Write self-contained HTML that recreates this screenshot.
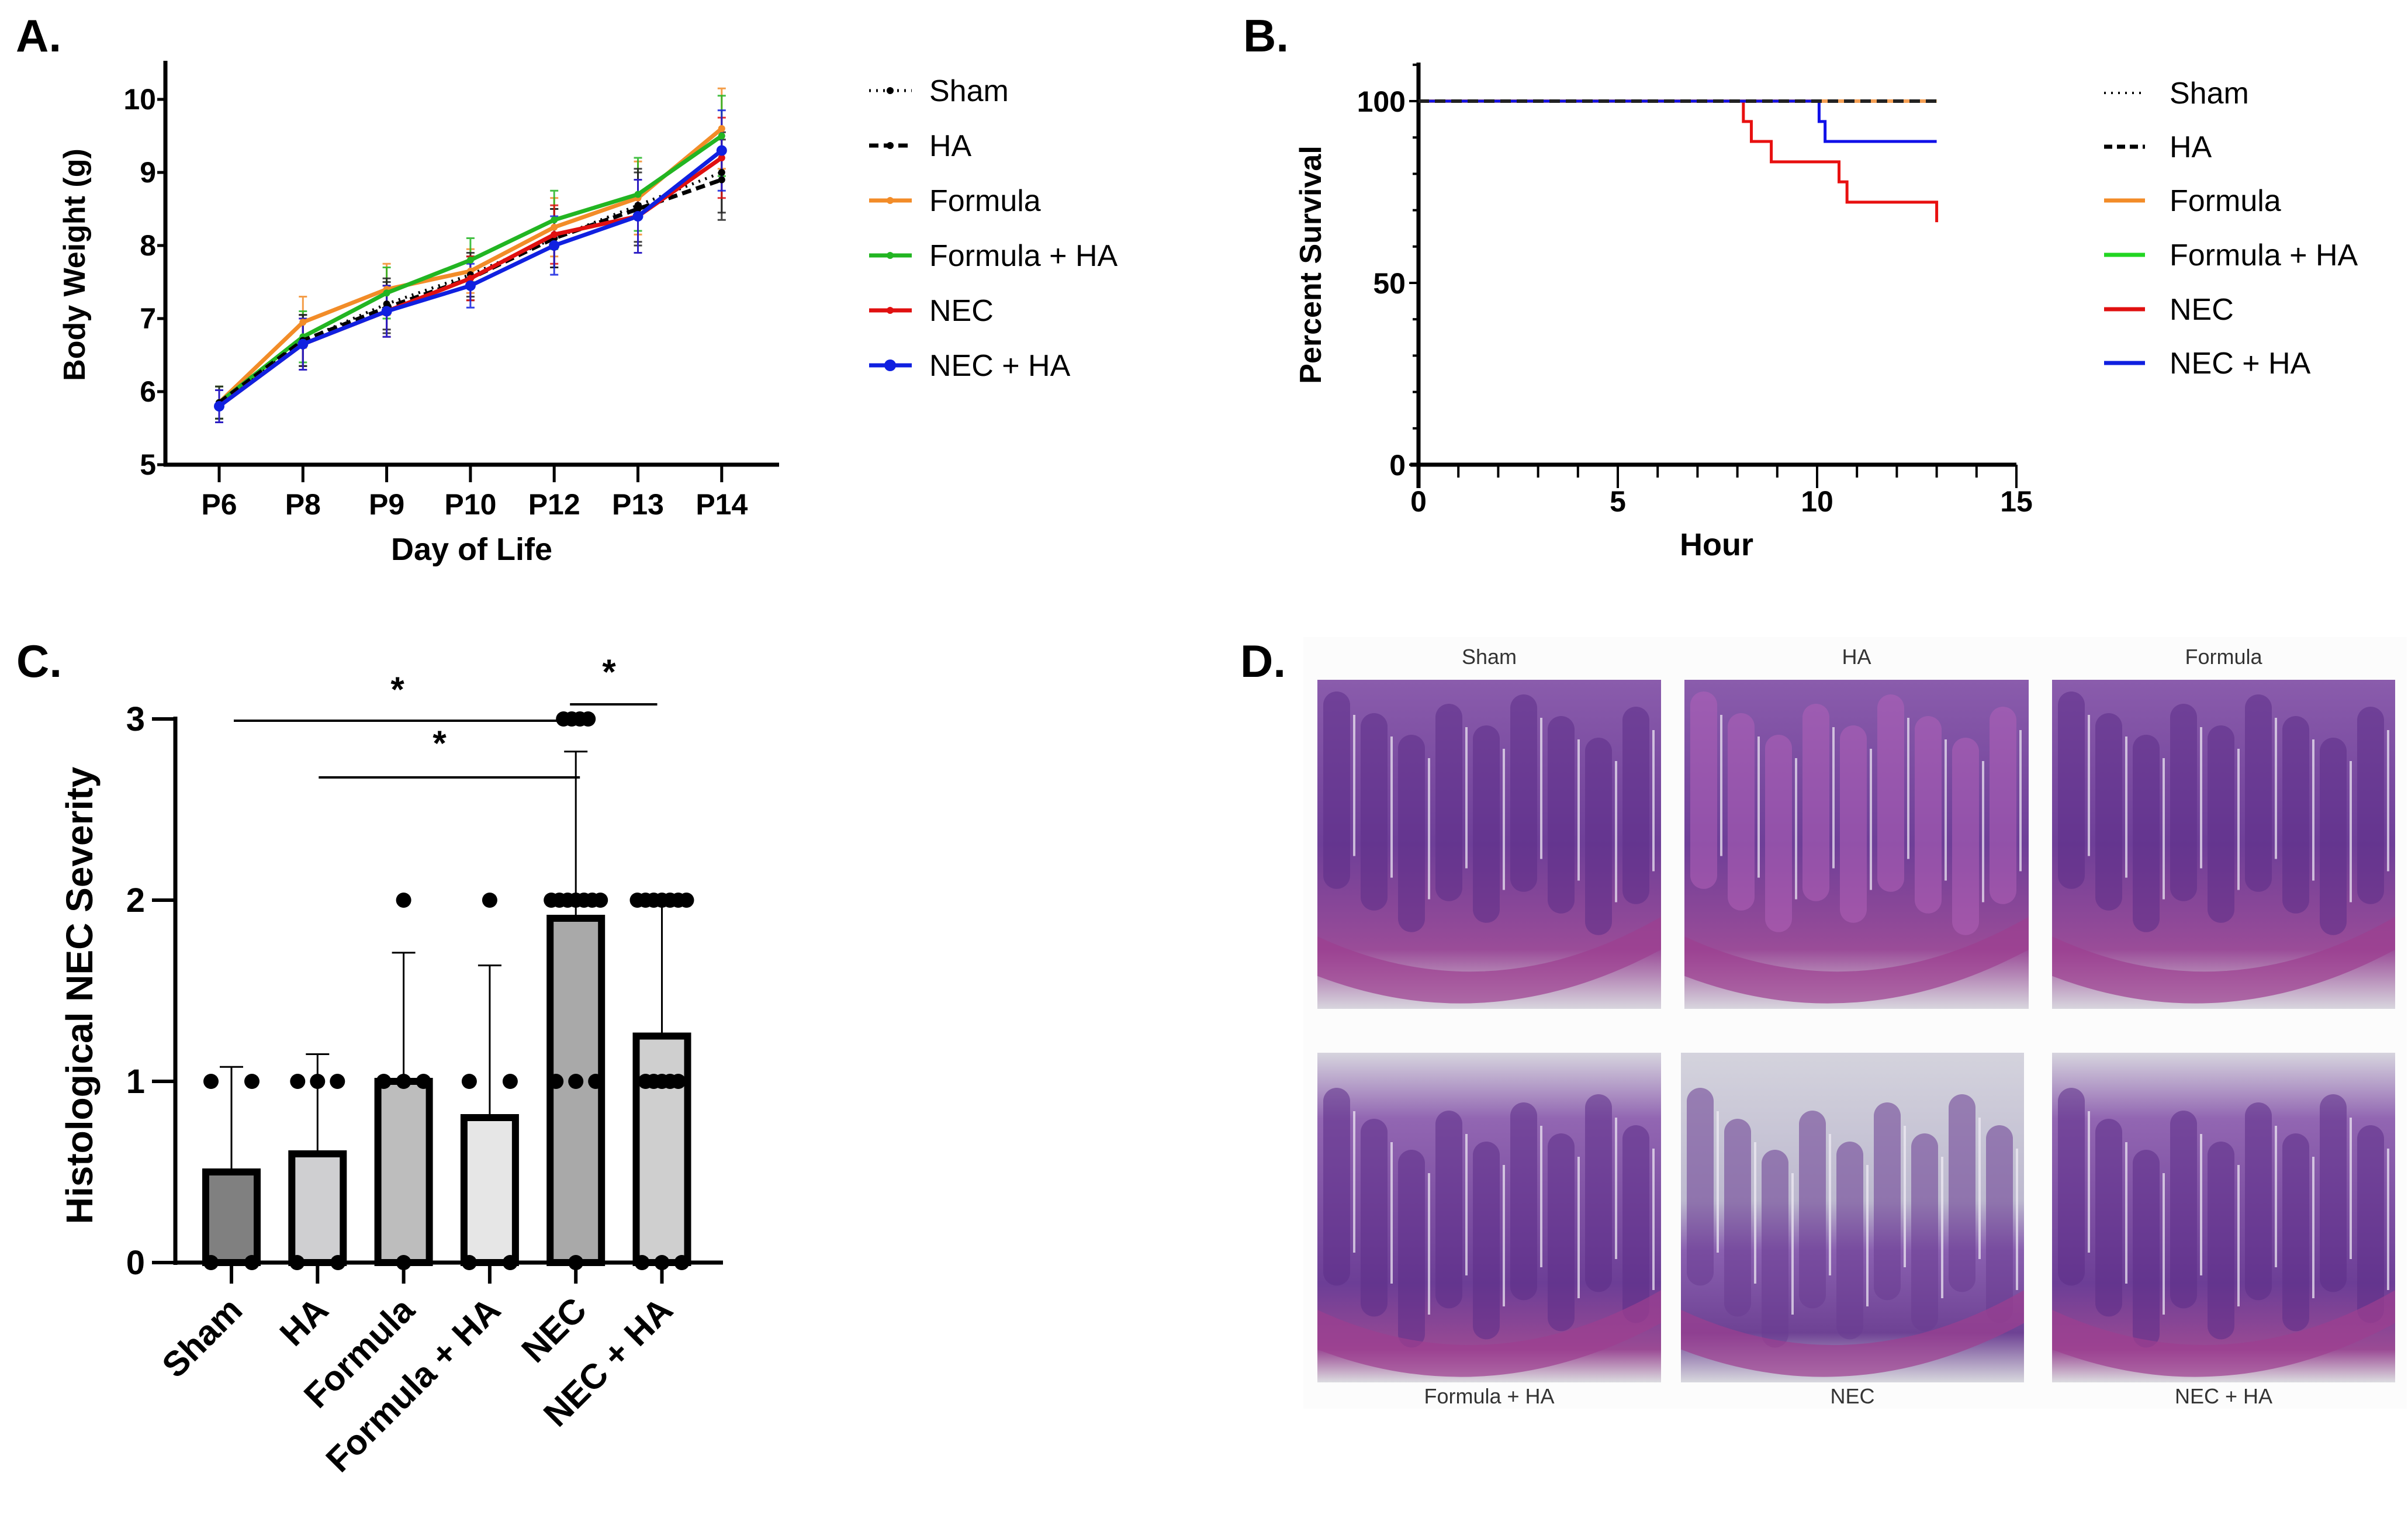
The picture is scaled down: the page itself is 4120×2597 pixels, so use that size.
<!DOCTYPE html>
<html><head><meta charset="utf-8"><style>
html,body{margin:0;padding:0;background:#fff}
svg{display:block}
text{font-family:"Liberation Sans",Arial,sans-serif}
.nar{font-family:"Liberation Sans Narrow","Liberation Sans",sans-serif}
</style></head><body>
<svg id="fig" xmlns="http://www.w3.org/2000/svg" width="4120" height="2597" viewBox="0 0 4120 2597">
<defs>
<linearGradient id="tis1" x1="0" y1="0" x2="0" y2="1"><stop offset="0" stop-color="#8a5cac"/><stop offset="0.5" stop-color="#6e3f98"/><stop offset="0.82" stop-color="#9a4c98"/><stop offset="1" stop-color="#d8d6de"/></linearGradient>
<linearGradient id="tis2" x1="0" y1="0" x2="0" y2="1"><stop offset="0" stop-color="#d6d4de"/><stop offset="0.2" stop-color="#9266b2"/><stop offset="0.7" stop-color="#6c3e96"/><stop offset="0.9" stop-color="#9a4a94"/><stop offset="1" stop-color="#dcdce0"/></linearGradient>
<linearGradient id="tis3" x1="0" y1="0" x2="0" y2="1"><stop offset="0" stop-color="#d4d3dd"/><stop offset="0.45" stop-color="#bdb9cf"/><stop offset="0.6" stop-color="#8a60b0"/><stop offset="0.85" stop-color="#6e4294"/><stop offset="1" stop-color="#d8d8de"/></linearGradient>
</defs>
<g id="panelA"></g>
<g id="panelB"></g>
<g id="panelC"></g>
<g id="panelD"></g>
</svg>
<script>
const NS="http://www.w3.org/2000/svg";
function mk(parent,tag,attrs,txt){const e=document.createElementNS(NS,tag);for(const k in attrs)e.setAttribute(k,attrs[k]);if(txt!==undefined)e.textContent=txt;parent.appendChild(e);return e;}

// ===== Panel A data =====
const daysA=["P6","P8","P9","P10","P12","P13","P14"];
const seriesNamesA=["Sham","HA","Formula","Formula + HA","NEC","NEC + HA"];
const shamW=[5.8,6.7,7.2,7.6,8.1,8.55,9.0];
const haW=[5.85,6.7,7.15,7.55,8.1,8.5,8.9];
const formulaW=[5.85,6.95,7.4,7.65,8.25,8.65,9.6];
const formulaHaW=[5.85,6.75,7.35,7.8,8.35,8.7,9.5];
const necW=[5.8,6.65,7.1,7.55,8.15,8.4,9.2];
const necHaW=[5.8,6.65,7.1,7.45,8.0,8.4,9.3];
const sdA=[0.22,0.35,0.35,0.3,0.4,0.5,0.55];
const yTicksA=[5,6,7,8,9,10];

// ===== Panel B data =====
const hourTicksB=[0,5,10,15];
const pctTicksB=[0,50,100];
const necTimes=[0,8.15,8.35,8.85,10.55,10.75,13.0];
const necSurv=[100,94.4,88.9,83.3,77.8,72.2,66.7];
const necHaTimes=[0,10.05,10.2,13.0];
const necHaSurv=[100,94.4,88.9,88.9];
const flatEnd=13.0;

// ===== Panel C data =====
const groupsC=["Sham","HA","Formula","Formula + HA","NEC","NEC + HA"];
const meansC=[0.5,0.6,1.0,0.8,1.9,1.25];
const sdC=[0.58,0.55,0.71,0.84,0.92,0.72];
const dotsSham=[1,1,0,0];
const dotsHa=[1,1,1,0,0];
const dotsFormula=[2,1,1,1,0];
const dotsFormulaHa=[2,1,1,0,0];
const dotsNec=[3,3,3,3,2,2,2,2,2,2,2,1,1,1,0];
const dotsNecHa=[2,2,2,2,2,2,2,1,1,1,1,1,0,0,0];
const yTicksC=[0,1,2,3];

(function(){
const g=document.getElementById('panelA');
const x0=283,yTop=104,yBase=795,xEnd=1333;
const X=i=>375+i*143.3;
const Y=v=>yBase-(v-5)*125;
let t=mk(g,'text',{x:27,y:88,'font-size':78,'font-weight':'bold'},'A.');

let ax=mk(g,'line',{x1:x0,y1:yTop,x2:x0,y2:yBase+3,stroke:'#000','stroke-width':7});

ax=mk(g,'line',{x1:x0-3,y1:yBase,x2:xEnd,y2:yBase,stroke:'#000','stroke-width':7});

yTicksA.forEach(v=>{
  mk(g,'line',{x1:x0-14,y1:Y(v),x2:x0,y2:Y(v),stroke:'#000','stroke-width':5});
  const tt=mk(g,'text',{x:x0-16,y:Y(v)+17,'font-size':50,'font-weight':'bold','text-anchor':'end',class:'nar'},String(v));
  
});
daysA.forEach((d,i)=>{
  mk(g,'line',{x1:X(i),y1:yBase,x2:X(i),y2:yBase+30,stroke:'#000','stroke-width':5});
  const tt=mk(g,'text',{x:X(i),y:880,'font-size':50,'font-weight':'bold','text-anchor':'middle',class:'nar'},d);
  
});
t=mk(g,'text',{x:807,y:958,'font-size':54,'font-weight':'bold','text-anchor':'middle',class:'nar'},'Day of Life');

t=mk(g,'text',{x:0,y:0,'font-size':52,'font-weight':'bold','text-anchor':'middle',transform:'translate(145,453) rotate(-90)'},'Body Weight (g)');

const data=[shamW,haW,formulaW,formulaHaW,necW,necHaW];
const colors=['#000','#000','#f28c28','#22b522','#e01010','#1020e0'];
const dash=['3,9','16,9',null,null,null,null];
const widths=[5,7,7,7,7,7];
const order=[2,3,0,1,4,5];
order.forEach(s=>{
  const vals=data[s];
  vals.forEach((v,i)=>{
    const e=mk(g,'path',{d:`M${X(i)},${Y(v-sdA[i])}V${Y(v+sdA[i])}M${X(i)-7},${Y(v-sdA[i])}h14M${X(i)-7},${Y(v+sdA[i])}h14`,stroke:s<2?'#222':colors[s],'stroke-width':3,fill:'none',opacity:0.85});
    
  });
});
order.forEach(s=>{
  const vals=data[s];
  const pts=vals.map((v,i)=>X(i)+','+Y(v)).join(' ');
  const pl=mk(g,'polyline',{points:pts,fill:'none',stroke:colors[s],'stroke-width':widths[s]});
  if(dash[s])pl.setAttribute('stroke-dasharray',dash[s]);
  
  
  vals.forEach((v,i)=>{
    const m=mk(g,'circle',{cx:X(i),cy:Y(v),r:s===5?9:6,fill:colors[s]});
    
  });
});
const rows=[155,249,343,437,531,625];
seriesNamesA.forEach((n,s)=>{
  const lg=mk(g,'g',{});
  
  const l=mk(lg,'line',{x1:1487,y1:rows[s],x2:1560,y2:rows[s],stroke:colors[s],'stroke-width':widths[s]});
  if(dash[s])l.setAttribute('stroke-dasharray',dash[s]);
  mk(lg,'circle',{cx:1523,cy:rows[s],r:s===5?10:6,fill:colors[s]});
  mk(lg,'text',{x:1590,y:rows[s]+18,'font-size':52,class:'nar'},n);
});
})();

(function(){
const g=document.getElementById('panelB');
const x0=2427,yTop=107,yBase=795,xEnd=3450;
const X=h=>x0+h*68.2;
const Y=p=>yBase-p*6.22;
let t=mk(g,'text',{x:2127,y:88,'font-size':78,'font-weight':'bold'},'B.');

let ax=mk(g,'line',{x1:x0,y1:yTop,x2:x0,y2:yBase+40,stroke:'#000','stroke-width':7});

ax=mk(g,'line',{x1:x0-14,y1:yBase,x2:xEnd,y2:yBase,stroke:'#000','stroke-width':7});

for(let p=0;p<=110;p+=10){mk(g,'line',{x1:x0-(p%50===0?16:10),y1:Y(p),x2:x0,y2:Y(p),stroke:'#000','stroke-width':4});}
for(let h=1;h<=15;h++){mk(g,'line',{x1:X(h),y1:yBase,x2:X(h),y2:yBase+(h%5===0?40:22),stroke:'#000','stroke-width':4});}
pctTicksB.forEach(p=>{
  const tt=mk(g,'text',{x:x0-22,y:Y(p)+18,'font-size':50,'font-weight':'bold','text-anchor':'end',class:'nar'},String(p));
  
});
hourTicksB.forEach(h=>{
  const tt=mk(g,'text',{x:X(h),y:875,'font-size':50,'font-weight':'bold','text-anchor':'middle',class:'nar'},String(h));
  
});
t=mk(g,'text',{x:2937,y:950,'font-size':54,'font-weight':'bold','text-anchor':'middle',class:'nar'},'Hour');

t=mk(g,'text',{x:0,y:0,'font-size':52,'font-weight':'bold','text-anchor':'middle',transform:'translate(2260,453) rotate(-90)'},'Percent Survival');

function steps(ts,ss){let d=`M${X(ts[0])},${Y(ss[0])}`;for(let i=1;i<ts.length;i++){d+=`H${X(ts[i])}V${Y(ss[i])}`;}return d;}
let p=mk(g,'path',{d:`M${X(0)},${Y(100)}H${X(flatEnd)}`,stroke:'#22d522','stroke-width':6,fill:'none'});

p=mk(g,'path',{d:`M${X(0)},${Y(100)}H${X(flatEnd)}`,stroke:'#f5a055','stroke-width':6,fill:'none'});

p=mk(g,'path',{d:steps(necTimes,necSurv),stroke:'#e81010','stroke-width':5,fill:'none'});

p=mk(g,'path',{d:steps(necHaTimes,necHaSurv),stroke:'#1010e8','stroke-width':5,fill:'none'});

p=mk(g,'path',{d:`M${X(0)},${Y(100)}H${X(flatEnd)}`,stroke:'#222','stroke-width':6,'stroke-dasharray':'18,10',fill:'none'});

const names=["Sham","HA","Formula","Formula + HA","NEC","NEC + HA"];
const colors=['#000','#000','#f28c28','#22d522','#e01010','#1020e0'];
const dash=['3,9','14,8',null,null,null,null];
const rows=[159,251,343,436,529,621];
names.forEach((n,s)=>{
  const lg=mk(g,'g',{});
  
  const l=mk(lg,'line',{x1:3600,y1:rows[s],x2:3670,y2:rows[s],stroke:colors[s],'stroke-width':s===0?4:7});
  if(dash[s])l.setAttribute('stroke-dasharray',dash[s]);
  mk(lg,'text',{x:3712,y:rows[s]+18,'font-size':52,class:'nar'},n);
});
})();

(function(){
const g=document.getElementById('panelC');
const x0=300,yBase=2160,xEnd=1237;
const X=i=>396+i*147.3;
const Y=v=>yBase-v*310;
let t=mk(g,'text',{x:28,y:1158,'font-size':78,'font-weight':'bold'},'C.');

const fills=['#808080','#cfcfd1','#bdbdbd','#e6e6e6','#a9a9a9','#cfcfcf'];
const dots=[dotsSham,dotsHa,dotsFormula,dotsFormulaHa,dotsNec,dotsNecHa];
meansC.forEach((m,i)=>{
  const e=mk(g,'path',{d:`M${X(i)},${Y(m)}V${Y(m+sdC[i])}M${X(i)-20},${Y(m+sdC[i])}h40`,stroke:'#000','stroke-width':3,fill:'none'});
  
  const b=mk(g,'rect',{x:X(i)-44,y:Y(m),width:88,height:Y(0)-Y(m),fill:fills[i],stroke:'#000','stroke-width':12});
  
  
});
dots.forEach((arr,i)=>{
  const counts={};arr.forEach(v=>counts[v]=(counts[v]||0)+1);
  const seen={};
  arr.forEach(v=>{
    const n=counts[v];const k=seen[v]=(seen[v]||0);seen[v]++;
    const sp=n<=2?70:(n<=3?34:14);
    const off=(k-(n-1)/2)*sp;
    const c=mk(g,'circle',{cx:X(i)+off,cy:Y(v),r:13,fill:'#000'});
    
  });
});
let ax=mk(g,'line',{x1:x0,y1:Y(3)-4,x2:x0,y2:yBase+4,stroke:'#000','stroke-width':7});

ax=mk(g,'line',{x1:x0-3,y1:yBase,x2:xEnd,y2:yBase,stroke:'#000','stroke-width':7});

yTicksC.forEach(v=>{
  mk(g,'line',{x1:x0-40,y1:Y(v),x2:x0,y2:Y(v),stroke:'#000','stroke-width':6});
  const tt=mk(g,'text',{x:x0-52,y:Y(v)+20,'font-size':58,'font-weight':'bold','text-anchor':'end'},String(v));
  
});
groupsC.forEach((n,i)=>{
  mk(g,'line',{x1:X(i),y1:yBase,x2:X(i),y2:yBase+36,stroke:'#000','stroke-width':6});
  const tt=mk(g,'text',{x:0,y:0,'font-size':60,'font-weight':'bold','text-anchor':'end',transform:`translate(${X(i)+22},${yBase+85}) rotate(-45)`},n);
  
});
t=mk(g,'text',{x:0,y:0,'font-size':64,'font-weight':'bold','text-anchor':'middle',transform:'translate(158,1703) rotate(-90)'},'Histological NEC Severity');

const sig=[[X(0)+4,X(4),1233,680,1180],[X(1)+2,X(4)+7,1330,752,1272],[X(4)-10,X(5)-8,1205,1042,1150]];
sig.forEach(s=>{
  const l=mk(g,'line',{x1:s[0],y1:s[2],x2:s[1],y2:s[2],stroke:'#000','stroke-width':4});
  
  const st=mk(g,'text',{x:s[3],y:s[4]+20,'font-size':60,'font-weight':'bold','text-anchor':'middle'},'*');
  
});
})();

(function(){
const g=document.getElementById('panelD');
let t=mk(g,'text',{x:2122,y:1158,'font-size':78,'font-weight':'bold'},'D.');

mk(g,'rect',{x:2230,y:1090,width:1888,height:1320,fill:'#fcfcfc'});
const imgs=[
 ['Sham',2254,1163,588,563,'tis1','top'],
 ['HA',2882,1163,589,563,'tis1','top'],
 ['Formula',3511,1163,587,563,'tis1','top'],
 ['Formula + HA',2254,1801,588,564,'tis2','bot'],
 ['NEC',2876,1801,587,564,'tis3','bot'],
 ['NEC + HA',3511,1801,587,564,'tis2','bot']];
imgs.forEach((m,k)=>{
  const [n,x,y,w,h,fill,pos]=m;
  const gg=mk(g,'g',{});
  
  
  mk(gg,'rect',{x:x,y:y,width:w,height:h,fill:'#e0e0e4'});
  mk(gg,'rect',{x:x,y:y,width:w,height:h,fill:'url(#'+fill+')'});
  for(let v=0;v<9;v++){
    const vx=x+10+v*64, vy=y+(pos==='top'?20+((v*37)%90):60+((v*53)%120));
    mk(gg,'rect',{x:vx,y:vy,width:46,height:h*0.6,rx:23,fill:k===1?'#b060b8':(k===4?'#6a3c92':'#5c2e88'),opacity:0.55});
    mk(gg,'line',{x1:vx+53,y1:vy+40,x2:vx+53,y2:vy+h*0.5,stroke:'#f2eef6','stroke-width':4,opacity:0.7});
  }
  mk(gg,'path',{d:`M${x},${y+h*0.78} Q${x+w/2},${y+h*1.02} ${x+w},${y+h*0.72} L${x+w},${y+h*0.82} Q${x+w/2},${y+h*1.1} ${x},${y+h*0.9}Z`,fill:'#9c3f90',opacity:0.7});
  const ly=pos==='top'?y-27:y+h+36;
  const tt=mk(gg,'text',{x:x+w/2,y:ly,'font-size':36,'text-anchor':'middle',fill:'#333'},n);
  
});
})();
</script>
</body></html>
